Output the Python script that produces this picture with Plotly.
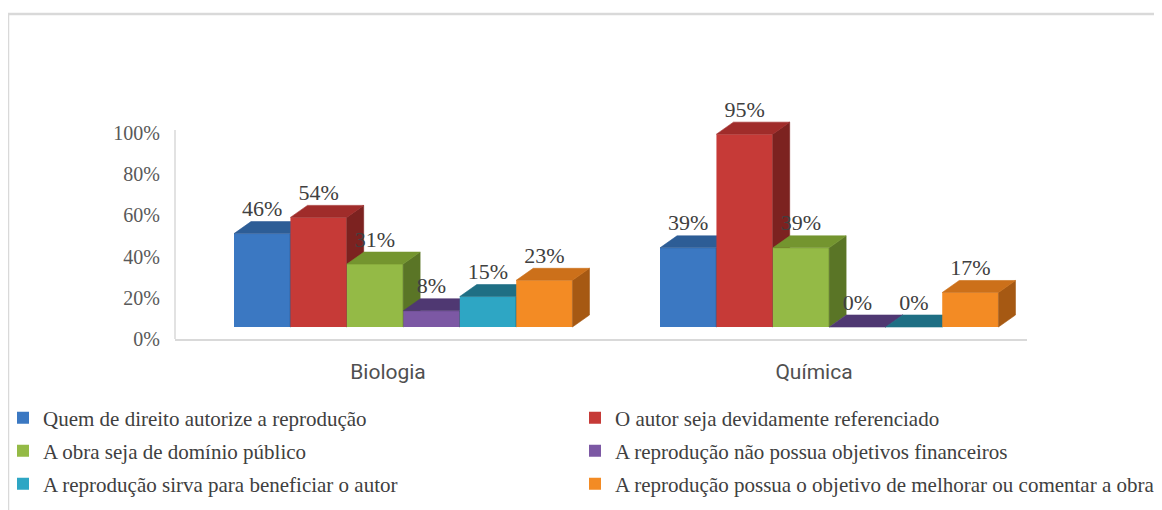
import plotly.graph_objects as go

# ---------------- data ----------------
categories = ["Biologia", "Química"]
series_names = [
    "Quem de direito autorize a reprodução",
    "O autor seja devidamente referenciado",
    "A obra seja de domínio público",
    "A reprodução não possua objetivos financeiros",
    "A reprodução sirva para beneficiar o autor",
    "A reprodução possua o objetivo de melhorar ou comentar a obra",
]
quem_autoriza = [0.46, 0.39]
autor_referenciado = [0.54, 0.95]
dominio_publico = [0.31, 0.39]
sem_fins_financeiros = [0.08, 0.00]
beneficiar_autor = [0.15, 0.00]
melhorar_comentar = [0.23, 0.17]
tick_values = [0.0, 0.2, 0.4, 0.6, 0.8, 1.0]

series_values = [quem_autoriza, autor_referenciado, dominio_publico,
                 sem_fins_financeiros, beneficiar_autor, melhorar_comentar]

# ---------------- style ----------------
front_colors = ["#3b78c2", "#c63a37", "#94ba46", "#7c58a4", "#2ea6c4", "#f38b24"]
top_colors = ["#2d5d96", "#a02c2a", "#74952f", "#4f3872", "#1f6f84", "#cc701a"]
side_colors = ["#24497a", "#7c2220", "#5a7526", "#45305f", "#1b6072", "#a65913"]
legend_ids = ["legend", "legend2", "legend3", "legend4", "legend5", "legend6"]

OFF = 8                                        # page body margin
W, H = 1162 - OFF, 510 - OFF
# plot area in page pixels, converted to figure pixels
PL, PR, PT, PB = 175 - OFF, 1027 - OFF, 80 - OFF, 339 - OFF
AXIS_TOP_PX = 130 - OFF                        # top of the drawn value axis line
px_per_x = (PR - PL) / 2.0                     # x range [-0.5, 1.5]
px_per_y2 = 203.0                              # bar axis scale
BASE_PX = 327 - OFF                            # front base pixel
BAR_W = 0.132
STEP = 0.1325
FIRST = -0.3615
DX = 17 / px_per_x
DY = 12 / px_per_y2

y2_range = [-(PB - BASE_PX) / px_per_y2, (BASE_PX - PT) / px_per_y2]
y_tick_scale = 206.0
y_range = [0.0, (PB - PT) / y_tick_scale]

serif = "Liberation Serif, Times New Roman, serif"
sans = "Liberation Sans Narrow, Roboto, Liberation Sans, sans-serif"

fig = go.Figure()
xcat = list(range(len(categories)))

# anchor trace for the main (tick) axis so that the base subplot exists
fig.add_trace(go.Scatter(x=[None], y=[None], mode="markers",
                         showlegend=False, hoverinfo="skip"))

label_x, label_y, label_t = [], [], []
for i, vals in enumerate(series_values):
    ax = f"y{i + 2}"
    off = FIRST + i * STEP
    fig.add_trace(go.Bar(
        x=xcat, y=vals, width=BAR_W, offset=off, name=series_names[i],
        marker=dict(color=front_colors[i], line=dict(width=0)),
        yaxis=ax, legend=legend_ids[i], hoverinfo="skip",
    ))
    sx, sy, tx, ty = [], [], [], []
    for c, v in zip(xcat, vals):
        x0 = c + off
        x1 = x0 + BAR_W
        sx += [x1, x1 + DX, x1 + DX, x1, x1, None]
        sy += [0, DY, v + DY, v, 0, None]
        tx += [x0, x0 + DX, x1 + DX, x1, x0, None]
        ty += [v, v + DY, v + DY, v, v, None]
        label_x.append(x0 + BAR_W / 2)
        label_y.append(v + DY)
        label_t.append(f"{round(v * 100)}%")
    fig.add_trace(go.Scatter(
        x=sx, y=sy, fill="toself", fillcolor=side_colors[i], mode="lines",
        line=dict(width=0.6, color=side_colors[i]), yaxis=ax,
        showlegend=False, hoverinfo="skip"))
    fig.add_trace(go.Scatter(
        x=tx, y=ty, fill="toself", fillcolor=top_colors[i], mode="lines",
        line=dict(width=0.6, color=top_colors[i]), yaxis=ax,
        showlegend=False, hoverinfo="skip"))

fig.add_trace(go.Scatter(
    x=label_x, y=label_y, text=label_t, mode="text", textposition="top center",
    textfont=dict(family=serif, size=22, color="#404040"),
    yaxis="y7", showlegend=False, hoverinfo="skip", cliponaxis=False))

layout_axes = {}
for i in range(6):
    layout_axes[f"yaxis{i + 2}"] = dict(
        range=y2_range, overlaying="y", visible=False, fixedrange=True)

def px_x(p):
    return (p - OFF - PL) / (PR - PL)

def px_y(p):
    return (PB - (p - OFF)) / (PB - PT)

frame_path = (f"M {px_x(8)},{px_y(530)} L {px_x(8)},{px_y(14)} "
              f"L {px_x(1158)},{px_y(14)} L {px_x(1158)},{px_y(530)}")

legend_common = dict(
    orientation="v", xref="paper", yref="container",
    xanchor="left", yanchor="middle",
    font=dict(family=serif, size=21, color="#404040"),
    bgcolor="rgba(0,0,0,0)", itemclick=False, itemdoubleclick=False,
)
legend_text_cols_px = [43, 615]                # page x where legend text starts
legend_rows_px = [418, 451, 484]               # page y of legend rows
legend_layout = {}
for i, lid in enumerate(legend_ids):
    col = i % 2
    row = i // 2
    box_left = legend_text_cols_px[col] - 40 - OFF
    legend_layout[lid] = dict(legend_common,
                              x=(box_left - PL) / (PR - PL),
                              y=1 - (legend_rows_px[row] - OFF) / H)

fig.update_layout(
    width=W, height=H,
    margin=dict(l=PL, r=W - PR, t=PT, b=H - PB, pad=0, autoexpand=False),
    paper_bgcolor="white", plot_bgcolor="white",
    barmode="overlay",
    xaxis=dict(
        range=[-0.5, 1.5], tickvals=xcat, ticktext=categories,
        showline=True, linecolor="#d9d9d9", linewidth=1.5,
        showgrid=False, zeroline=False, ticks="", automargin=False,
        tickfont=dict(family=sans, size=21, color="#505050"),
        ticklabelstandoff=13, fixedrange=True,
    ),
    yaxis=dict(
        range=y_range, tickvals=tick_values, tickformat=".0%",
        showline=False, showgrid=False, zeroline=False, ticks="",
        automargin=False,
        tickfont=dict(family=serif, size=20, color="#595959"),
        ticklabelstandoff=14, fixedrange=True,
    ),
    shapes=[
        dict(type="path", xref="paper", yref="paper", path=frame_path,
             line=dict(color="#d9d9d9", width=2.5), layer="below"),
        dict(type="line", xref="paper", yref="y", x0=0, x1=0,
             y0=0, y1=(PB - AXIS_TOP_PX) / y_tick_scale,
             line=dict(color="#d9d9d9", width=1.5), layer="below"),
    ],
    showlegend=True,
    **legend_layout,
    **layout_axes,
)

fig.write_html("out.html")
